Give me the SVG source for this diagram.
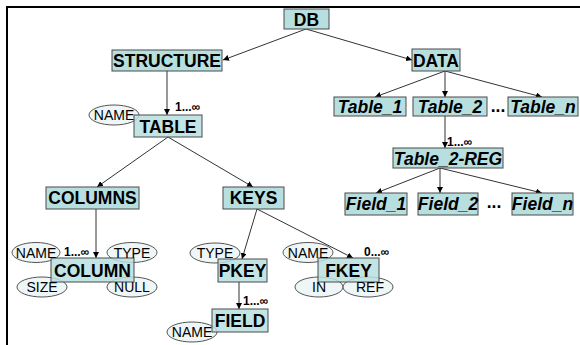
<svg xmlns="http://www.w3.org/2000/svg" width="580" height="345" viewBox="0 0 580 345">
<style>
.box{fill:#b8dfe0;stroke:#4a4a4a;stroke-width:1}
.boxt{fill:#b8dfe0;fill-opacity:0.85;stroke:#4a4a4a;stroke-width:1}
.lbl{font-family:"Liberation Sans",Arial,sans-serif;font-weight:bold;font-size:17.5px;fill:#000;text-anchor:middle}
.it{font-style:italic}
.ell{fill:#eef6f7;stroke:#555;stroke-width:1}
.et{font-family:"Liberation Sans",Arial,sans-serif;font-size:14px;fill:#000;text-anchor:middle}
.card{font-family:"Liberation Sans",Arial,sans-serif;font-weight:bold;font-size:12px;fill:#000}
.conn line{stroke:#333;stroke-width:1}
.arr{marker-end:url(#ah)}
</style>
<defs>
<marker id="ah" viewBox="0 0 10 10" refX="10" refY="5" markerWidth="6" markerHeight="6" orient="auto" markerUnits="userSpaceOnUse">
<path d="M0,0 L10,5 L0,10 z" fill="#000"/>
</marker>
</defs>
<rect width="580" height="345" fill="#fff"/>
<path d="M7,345 V7 H580" fill="none" stroke="#000" stroke-width="2"/>

<g id="connectors" class="conn">
<line class="arr" x1="306" y1="29" x2="223" y2="60"/>
<line class="arr" x1="306" y1="29" x2="412" y2="60"/>
<line class="arr" x1="167" y1="71" x2="167" y2="115"/>
<line class="arr" x1="168" y1="137" x2="97" y2="187"/>
<line class="arr" x1="168" y1="137" x2="253" y2="187"/>
<line class="arr" x1="96" y1="209" x2="96" y2="258"/>
<line class="arr" x1="257" y1="209" x2="242" y2="259"/>
<line class="arr" x1="257" y1="209" x2="353" y2="258"/>
<line class="arr" x1="239" y1="282" x2="239" y2="309"/>
<line class="arr" x1="445" y1="71" x2="375" y2="97"/>
<line class="arr" x1="445" y1="71" x2="445" y2="97"/>
<line class="arr" x1="445" y1="71" x2="542" y2="97"/>
<line class="arr" x1="445" y1="116" x2="445" y2="148"/>
<line class="arr" x1="440" y1="168" x2="376" y2="193"/>
<line class="arr" x1="440" y1="168" x2="440" y2="193"/>
<line class="arr" x1="440" y1="168" x2="542" y2="193"/>
</g>

<g id="DB"><rect class="box" x="284" y="9" width="45" height="20"/><text class="lbl" x="306.5" y="25.5">DB</text></g>
<g id="STRUCTURE"><rect class="box" x="112" y="50" width="110" height="21"/><text class="lbl" x="167" y="66.5">STRUCTURE</text></g>
<g id="DATA"><rect class="box" x="412" y="49" width="48" height="22"/><text class="lbl" x="436" y="66.5">DATA</text></g>

<g id="TABLE">
<ellipse class="ell" cx="114" cy="115" rx="25" ry="10"/><text class="et" x="114" y="120">NAME</text>
<rect class="boxt" x="134" y="115" width="68" height="22"/><text class="lbl" x="168" y="132.5">TABLE</text>
<text class="card" x="175" y="111">1...∞</text>
</g>

<g id="Table_1"><rect class="box" x="334" y="97" width="72" height="19"/><text class="lbl it" x="370" y="113">Table_1</text></g>
<g id="Table_2"><rect class="box" x="413" y="97" width="74" height="19"/><text class="lbl it" x="450" y="113">Table_2</text></g>
<text class="lbl" x="498" y="112">...</text>
<g id="Table_n"><rect class="box" x="508" y="97" width="70" height="19"/><text class="lbl it" x="543" y="113">Table_n</text></g>
<text class="card" x="447" y="146">1...∞</text>
<g id="Table_2-REG"><rect class="box" x="393" y="148" width="110" height="20"/><text class="lbl it" x="448" y="164.5">Table_2-REG</text></g>

<g id="Field_1"><rect class="box" x="345" y="193" width="62" height="22"/><text class="lbl it" x="376" y="210">Field_1</text></g>
<g id="Field_2"><rect class="box" x="418" y="193" width="60" height="22"/><text class="lbl it" x="448" y="210">Field_2</text></g>
<text class="lbl" x="494" y="208">...</text>
<g id="Field_n"><rect class="box" x="512" y="193" width="61" height="22"/><text class="lbl it" x="542.5" y="210">Field_n</text></g>

<g id="COLUMNS"><rect class="box" x="46" y="187" width="93" height="22"/><text class="lbl" x="92.5" y="204">COLUMNS</text></g>
<g id="KEYS"><rect class="box" x="223" y="187" width="61" height="22"/><text class="lbl" x="253.5" y="204">KEYS</text></g>

<g id="COLUMN">
<ellipse class="ell" cx="36" cy="252.5" rx="24" ry="10"/>
<ellipse class="ell" cx="132" cy="252.5" rx="25" ry="10"/>
<ellipse class="ell" cx="42" cy="287" rx="25" ry="10"/>
<ellipse class="ell" cx="132" cy="287" rx="25" ry="10"/>
<rect class="boxt" x="51" y="258" width="83" height="24"/>
<text class="et" x="36" y="257.5">NAME</text>
<text class="et" x="132" y="257.5">TYPE</text>
<text class="et" x="42" y="292">SIZE</text>
<text class="et" x="132" y="292">NULL</text>
<text class="lbl" x="92.5" y="277">COLUMN</text>
<text class="card" x="64" y="256">1...∞</text>
</g>

<g id="PKEY">
<ellipse class="ell" cx="215" cy="253" rx="25" ry="10"/>
<text class="et" x="215" y="258">TYPE</text>
<rect class="boxt" x="218" y="259" width="49" height="23"/><text class="lbl" x="242.5" y="277">PKEY</text>
<text class="card" x="243" y="305">1...∞</text>
</g>

<g id="FIELD">
<ellipse class="ell" cx="192" cy="332" rx="25" ry="10"/>
<text class="et" x="192" y="337">NAME</text>
<rect class="boxt" x="212" y="309" width="56" height="23"/><text class="lbl" x="240" y="327">FIELD</text>
</g>

<g id="FKEY">
<ellipse class="ell" cx="308" cy="252.5" rx="25" ry="10"/>
<ellipse class="ell" cx="319" cy="287" rx="24" ry="10"/>
<ellipse class="ell" cx="368" cy="287" rx="25" ry="10"/>
<rect class="boxt" x="318" y="258" width="61" height="24"/>
<text class="et" x="308" y="257.5">NAME</text>
<text class="et" x="319" y="292">IN</text>
<text class="et" x="370" y="292">REF</text>
<text class="lbl" x="348.5" y="277">FKEY</text>
<text class="card" x="364" y="256">0...∞</text>
</g>
</svg>
